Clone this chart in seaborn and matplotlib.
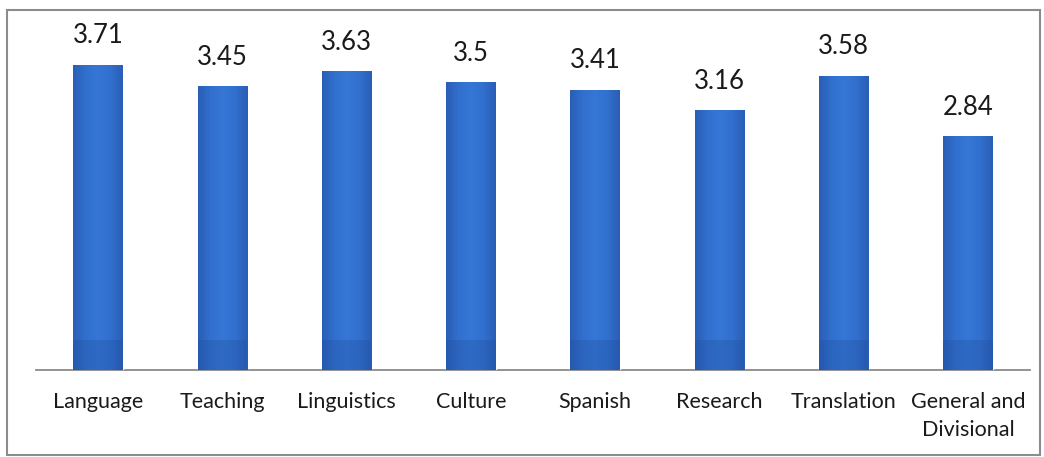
import numpy as np
import pandas as pd
import matplotlib
matplotlib.use("Agg")
import matplotlib.pyplot as plt
from matplotlib.colors import LinearSegmentedColormap
from matplotlib.patches import Rectangle
import seaborn as sns

categories = ["Language", "Teaching", "Linguistics", "Culture", "Spanish",
              "Research", "Translation", "General and\nDivisional"]
scores = [3.71, 3.45, 3.63, 3.5, 3.41, 3.16, 3.58, 2.84]
score_labels = ["3.71", "3.45", "3.63", "3.5", "3.41", "3.16", "3.58", "2.84"]

df = pd.DataFrame({"area": categories, "score": scores})

sns.set_theme(style="white")
plt.rcParams["font.family"] = ["Lato", "DejaVu Sans"]

W, H = 1044, 457
fig = plt.figure(figsize=(W / 100, H / 100), dpi=100)
ax = fig.add_axes([36 / W, (H - 370) / H, (1030 - 36) / W, (370 - 41) / H])

sns.barplot(data=df, x="area", y="score", color="#2F6CC8", width=0.4,
            saturation=1, ax=ax, zorder=2)

# Excel-style shading: slightly darker edges, lighter centre, darker foot
shade = LinearSegmentedColormap.from_list(
    "shade", ["#2A5EB6", "#3170CE", "#3676D4", "#3170CE", "#2A5EB6"])
grad = np.linspace(0, 1, 64)[None, :]
for p in ax.patches:
    x0, y0 = p.get_x(), p.get_y()
    w, h = p.get_width(), p.get_height()
    im = ax.imshow(grad, cmap=shade, aspect="auto", extent=[x0, x0 + w, y0, y0 + h],
                   zorder=3, interpolation="bicubic")
    im.set_clip_path(p)
    ax.add_patch(Rectangle((x0, 0), w, 0.36, facecolor="#1F4E9E", alpha=0.3,
                           edgecolor="none", zorder=4))

ax.set_xlim(-0.5, len(categories) - 0.5)
ax.set_ylim(0, 4)

for i, (v, lab) in enumerate(zip(scores, score_labels)):
    ax.text(i, v + 0.2, lab, ha="center", va="bottom", fontsize=18.5, color="#1a1a1a")

ax.set_xlabel("")
ax.set_ylabel("")
ax.set_yticks([])
ax.tick_params(axis="x", length=0, pad=16, labelsize=15.5, labelcolor="#1a1a1a")
for t in ax.get_xticklabels():
    t.set_linespacing(1.5)
for s in ["top", "left", "right"]:
    ax.spines[s].set_visible(False)
ax.spines["bottom"].set_color("#8a8a8a")
ax.spines["bottom"].set_linewidth(1.3)
ax.spines["bottom"].set_zorder(1)

# outer chart frame
fig.add_artist(Rectangle((7 / W, 2 / H), (1040 - 7) / W, (H - 10 - 2) / H,
                         transform=fig.transFigure, fill=False,
                         edgecolor="#8c8c8c", linewidth=1.5))

fig.savefig("out.png", dpi=100)
